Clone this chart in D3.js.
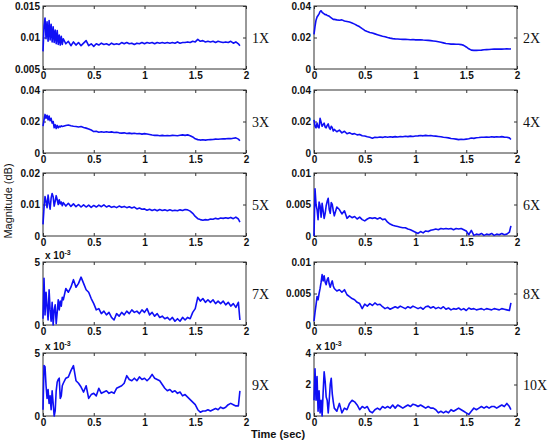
<!DOCTYPE html>
<html>
<head>
<meta charset="utf-8">
<script src="https://cdn.jsdelivr.net/npm/d3@7"></script>
<style>
  body { margin: 0; background: #fff; }
</style>
</head>
<body>
<div id="chart"></div>
<script>
// Time samples (sec), shared by every panel
const times = [0, 0.01, 0.02, 0.03, 0.04, 0.05, 0.06, 0.07, 0.08, 0.09, 0.1, 0.11, 0.12, 0.13, 0.14, 0.15, 0.16, 0.17, 0.18, 0.19, 0.2,
  0.225, 0.25, 0.275, 0.3, 0.325, 0.35, 0.375, 0.4,
  0.425, 0.45, 0.475, 0.5, 0.525, 0.55, 0.575, 0.6,
  0.625, 0.65, 0.675, 0.7, 0.725, 0.75, 0.775, 0.8,
  0.825, 0.85, 0.875, 0.9, 0.925, 0.95, 0.975, 1.0,
  1.025, 1.05, 1.075, 1.1, 1.125, 1.15, 1.175, 1.2,
  1.225, 1.25, 1.275, 1.3, 1.325, 1.35, 1.375, 1.4,
  1.425, 1.45, 1.475, 1.5, 1.525, 1.55, 1.575, 1.6,
  1.625, 1.65, 1.675, 1.7, 1.725, 1.75, 1.775, 1.8,
  1.825, 1.85, 1.875, 1.9, 1.925, 1.94];

// Magnitudes, all in units of 1e-3
const mag1X = [7.8, 11.8, 13.1, 9.8, 12.5, 9.4, 12.7, 9.6, 12.1, 9.3, 11.7, 9.2, 11.2, 9.0, 11.1, 8.9, 10.4, 8.8, 10.2, 8.9, 9.8,
  9.0, 9.4, 8.7, 9.3, 8.8, 9.2, 8.7, 9.1,
  9.5, 8.7, 9.0, 8.6, 9.0, 8.8, 9.1, 8.9,
  9.0, 8.8, 9.1, 8.9, 9.0, 8.9, 9.2, 9.0,
  9.2, 9.0, 9.1, 8.9, 9.1, 9.0, 9.2, 9.0,
  9.2, 9.1, 9.2, 9.0, 9.2, 9.1, 9.2, 9.1,
  9.2, 9.1, 9.2, 9.1, 9.3, 9.1, 9.2, 9.2,
  9.3, 9.2, 9.4, 9.3, 9.7, 9.4, 9.5, 9.3,
  9.4, 9.3, 9.4, 9.2, 9.4, 9.3, 9.2, 9.3,
  9.2, 9.4, 9.1, 9.3, 9.0, 8.7];
const mag2X = [22, 27, 31, 33, 34, 35, 36.5, 37, 36, 35.5, 35, 34.5, 34.5, 34, 33.8, 33.5, 33, 32.5, 32, 31.5, 31.5,
  31.2, 31.0, 31.2, 30.5, 30.2, 29.8, 29.2, 28.5,
  27.6, 26.8, 25.6, 24.5, 23.8, 23.2, 22.8, 22.3,
  21.8, 21.3, 20.8, 20.5, 20.0, 19.6, 19.3, 19.1,
  19.0, 18.9, 18.8, 18.8, 18.7, 18.6, 18.7, 18.5,
  18.5, 18.6, 18.4, 18.3, 18.2, 18.0, 17.8, 17.6,
  17.3, 17.0, 16.6, 16.2, 16.0, 15.8, 15.8, 15.7,
  15.7, 15.5, 15.0, 14.0, 12.8, 12.0, 11.8, 11.8,
  11.9, 12.0, 12.2, 12.3, 12.4, 12.5, 12.6, 12.6,
  12.6, 12.6, 12.7, 12.8, 12.7, 12.8];
const mag3X = [17, 21, 24.5, 22, 24, 21, 23.5, 20.5, 22, 19, 20, 16, 18, 15.5, 17.5, 16, 17, 16.5, 17.2, 16.8, 17,
  17.5, 17.8, 17.3, 17.0, 16.8, 16.5, 16.8, 16.2,
  15.8, 15.3, 14.6, 13.6, 13.8, 13.2, 13.5, 13.2,
  13.5, 13.2, 13.4, 13.0, 13.2, 12.8, 12.6, 12.8,
  12.4, 12.6, 12.3, 12.5, 12.2, 12.4, 12.0, 12.3,
  12.1, 11.8, 11.4, 11.2, 11.3, 11.0, 11.2, 11.0,
  11.1, 11.0, 11.2, 11.1, 11.0, 11.3, 11.5, 11.2,
  11.5, 11.0, 10.2, 9.0, 8.5, 8.2, 8.4, 8.2,
  8.4, 8.5, 8.6, 8.8, 8.7, 8.9, 9.0, 9.0,
  9.2, 9.1, 9.4, 9.6, 8.8, 7.8];
const mag4X = [21, 17, 16, 19, 16.5, 16, 22, 19.5, 17, 18, 19, 16.5, 16, 17.5, 18.5, 16, 15, 17, 16, 14, 15,
  13.5, 14.5, 12.8, 13.8, 12.2, 12.8, 12.0, 12.3,
  11.5, 11.8, 11.0, 10.8, 10.3, 10.0, 9.4, 10.0,
  9.8, 10.2, 9.9, 10.3, 10.0, 10.3, 10.1, 10.4,
  10.2, 10.5, 10.3, 10.6, 10.4, 10.7, 10.5, 10.8,
  10.9, 11.1, 10.9, 11.2, 11.0, 11.1, 10.8, 10.7,
  10.5, 10.3, 10.0, 9.8, 9.6, 9.2, 9.0, 8.8,
  8.5, 8.7, 8.6, 8.8, 9.0, 9.5, 9.3, 9.7,
  9.8, 10.0, 10.0, 10.2, 10.0, 10.3, 10.1, 10.3,
  10.2, 10.4, 10.1, 10.0, 9.6, 8.6];
const mag5X = [3.7, 9, 12.5, 11, 9, 13, 10.5, 8.5, 12, 13.5, 12.5, 9.5, 11, 12.8, 11.5, 10, 11.5, 10.2, 10.8, 9.6, 10.6,
  9.5, 10.4, 9.4, 10.2, 9.3, 10.0, 9.2, 9.9,
  9.2, 9.8, 9.1, 9.7, 9.2, 9.8, 9.3, 9.9,
  9.2, 9.6, 9.1, 9.4, 9.0, 9.5, 9.1, 9.4,
  9.0, 9.3, 8.9, 9.2, 8.6, 8.9, 8.5, 8.6,
  8.2, 8.5, 8.1, 8.4, 8.0, 8.4, 8.1, 8.3,
  8.0, 8.3, 8.0, 8.2, 8.0, 8.3, 8.1, 8.4,
  8.3, 7.9, 7.2, 6.2, 5.5, 5.2, 5.0, 5.2,
  5.1, 5.4, 5.3, 5.6, 5.4, 5.7, 5.6, 5.8,
  5.6, 5.9, 5.5, 6.0, 5.4, 4.4];
const mag6X = [0, 7.5, 5.0, 4.2, 2.6, 5.4, 4.8, 3.0, 5.2, 4.0, 2.8, 3.6, 4.8, 5.5, 6.0, 4.2, 3.6, 5.3, 5.0, 4.0, 3.2,
  4.6, 4.2, 3.5, 4.0, 2.8, 3.2, 2.9, 3.1,
  2.7, 3.0, 2.6, 2.4, 2.7, 2.9, 2.8, 2.9,
  2.7, 2.9, 2.6, 2.7, 2.2, 1.9, 1.7, 1.6,
  1.5, 1.4, 1.3, 1.3, 1.1, 1.0, 0.8, 0.6,
  0.4, 0.7, 0.5, 0.8, 0.7, 0.9, 1.0, 1.1,
  1.0, 1.2, 1.1, 1.2, 1.1, 1.2, 1.0, 1.2,
  1.1, 1.2, 1.0, 0.8, 0.2, 0.9, 0.1, 0.3,
  0.2, 0.4, 0.1, 0.3, 0.2, 0.4, 0.1, 0.3,
  0.2, 0.4, 0.2, 0.3, 0.6, 1.6];
const mag7X = [0.5, 3.7, 0.8, 2.6, 1.5, 0.4, 2.8, 1.2, 0.3, 1.8, 0.0, 1.2, 1.6, 0.1, 1.0, 2.0, 1.2, 1.9, 1.5, 2.2, 2.0,
  2.9, 2.6, 3.0, 3.6, 3.0, 3.3, 3.8, 3.3,
  2.8, 2.6, 2.1, 1.7, 1.2, 1.3, 0.9, 1.1,
  0.8, 1.0, 0.6, 0.4, 0.9, 0.7, 1.0, 0.8,
  1.1, 0.9, 1.2, 1.0, 1.1, 0.9, 1.2, 1.0,
  1.3, 0.8, 1.0, 0.7, 0.9, 0.6, 0.7, 0.5,
  0.6, 0.4, 0.6, 0.3, 0.5, 0.3, 0.6, 0.4,
  0.6, 0.5, 1.0, 1.3, 2.2, 1.9, 2.1, 1.8,
  2.0, 1.8, 2.0, 1.7, 1.9, 1.7, 1.9, 1.6,
  1.8, 1.5, 1.7, 1.4, 1.8, 0.4];
const mag8X = [0.6, 2.0, 3.2, 4.5, 4.0, 5.0, 5.8, 6.8, 8.0, 7.0, 7.8, 6.8, 6.4, 7.2, 7.5, 6.5, 6.0, 6.6, 7.0, 6.2, 5.8,
  5.4, 5.6, 5.2, 5.6, 4.8, 4.5, 4.2, 4.0,
  3.6, 3.4, 2.6, 3.3, 3.0, 3.4, 3.1, 3.5,
  3.2, 3.3, 2.9, 2.6, 2.8, 2.5, 2.7, 2.9,
  2.7, 3.0, 2.8, 2.6, 2.9, 2.7, 3.0, 2.8,
  2.6, 2.8, 2.5, 2.9, 3.0, 2.7, 2.9, 2.6,
  2.8, 2.6, 2.9, 2.5, 2.7, 2.4, 2.6, 2.5,
  2.7, 2.4, 2.6, 2.3, 2.7, 2.5, 2.6, 2.4,
  2.5, 2.6, 2.4, 2.6, 2.5, 2.4, 2.6, 2.5,
  2.4, 2.6, 2.5, 2.4, 2.3, 3.5];
const mag9X = [0.5, 4.0, 3.9, 2.4, 1.4, 2.1, 1.0, 1.6, 0.5, 2.0, 1.0, 0.0, 0.4, 2.0, 2.7, 2.9, 3.0, 1.4, 1.6, 2.4, 2.6,
  3.0, 3.1, 3.6, 4.0, 2.8, 2.6, 2.3, 1.9,
  2.4, 1.4, 1.7, 1.8, 1.6, 2.2, 1.8, 1.9,
  2.0, 1.8, 1.9, 1.8, 2.2, 2.3, 2.4, 2.6,
  3.2, 2.9, 2.8, 3.0, 2.8, 3.1, 2.9, 3.0,
  2.8, 3.0, 3.3, 3.0, 2.9, 2.8, 2.5, 2.2,
  2.0, 2.1, 1.9, 2.0, 1.8, 1.9, 1.6, 1.7,
  1.5, 1.3, 1.1, 0.9, 0.5, 0.3, 0.4, 0.4,
  0.5, 0.4, 0.5, 0.6, 0.5, 0.7, 0.6, 0.7,
  0.9, 1.0, 0.9, 0.8, 0.8, 2.0];
const mag10X = [1.0, 3.0, 1.0, 2.5, 0.3, 1.6, 0.2, 1.0, 0.0, 1.5, 2.8, 2.2, 1.2, 1.0, 0.2, 1.0, 2.0, 2.4, 1.4, 0.9, 0.5,
  0.3, 0.8, 0.2, 0.5, 0.4, 0.8, 1.0, 0.9,
  0.7, 0.4, 0.6, 0.5, 0.6, 0.3, 0.2, 0.4,
  0.5, 0.4, 0.6, 0.5, 0.6, 0.5, 0.7, 0.5,
  0.7, 0.6, 0.5, 0.6, 0.7, 0.6, 0.75, 0.7,
  0.6, 0.7, 0.6, 0.5, 0.6, 0.5, 0.5, 0.4,
  0.2, 0.3, 0.2, 0.3, 0.2, 0.4, 0.3, 0.4,
  0.5, 0.4, 0.3, 0.2, 0.1, 0.3, 0.5, 0.4,
  0.5, 0.6, 0.5, 0.6, 0.5, 0.6, 0.6, 0.5,
  0.6, 0.7, 0.6, 0.8, 0.6, 0.4];

const seriesList = [mag1X, mag2X, mag3X, mag4X, mag5X, mag6X, mag7X, mag8X, mag9X, mag10X];
const panelLabels = ["1X", "2X", "3X", "4X", "5X", "6X", "7X", "8X", "9X", "10X"];

// y axis ranges and ticks (1e-3 units) with their printed labels
const yDomains = [[5, 15], [0, 40], [0, 40], [0, 40], [0, 20], [0, 10], [0, 5], [0, 10], [0, 5], [0, 4]];
const yTickValues = [[5, 10, 15], [0, 20, 40], [0, 20, 40], [0, 20, 40], [0, 10, 20], [0, 5, 10], [0, 5], [0, 5, 10], [0, 5], [0, 2, 4]];
const yTickLabels = [["0.005", "0.01", "0.015"], ["0", "0.02", "0.04"], ["0", "0.02", "0.04"], ["0", "0.02", "0.04"],
  ["0", "0.01", "0.02"], ["0", "0.005", "0.01"], ["0", "5"], ["0", "0.005", "0.01"], ["0", "5"], ["0", "2", "4"]];
const hasExponent = [false, false, false, false, false, false, true, false, true, true];

const xTickValues = [0, 0.5, 1, 1.5, 2];
const xTickLabels = ["0", "0.5", "1", "1.5", "2"];

// Layout
const W = 552, H = 442;
const colLeft = [43, 314];
const rowTop = [6, 90, 173, 262, 353];
const boxW = 203, boxH = 63;
const lineColor = "#0f0ff5";
const tickFont = "'Liberation Sans', Arial, sans-serif";

const svg = d3.select("#chart").append("svg")
    .attr("width", W)
    .attr("height", H)
    .style("display", "block");

const x = d3.scaleLinear().domain([0, 2]).range([0, boxW]);

seriesList.forEach((values, i) => {
    const col = i % 2, row = Math.floor(i / 2);
    const g = svg.append("g")
        .attr("transform", `translate(${colLeft[col]},${rowTop[row]})`);

    const y = d3.scaleLinear().domain(yDomains[i]).range([boxH, 0]);
    const labels = yTickLabels[i];

    // Axes with inward ticks, MATLAB style
    const bottom = g.append("g")
        .attr("transform", `translate(0,${boxH})`)
        .call(d3.axisBottom(x).tickValues(xTickValues).tickSize(-3).tickPadding(3)
            .tickFormat((d, k) => xTickLabels[k]));
    const top = g.append("g")
        .call(d3.axisTop(x).tickValues(xTickValues).tickSize(-3).tickFormat(""));
    const left = g.append("g")
        .call(d3.axisLeft(y).tickValues(yTickValues[i]).tickSize(-3).tickPadding(3)
            .tickFormat((d, k) => labels[k]));
    const right = g.append("g")
        .attr("transform", `translate(${boxW},0)`)
        .call(d3.axisRight(y).tickValues(yTickValues[i]).tickSize(-3).tickFormat(""));

    [bottom, top, left, right].forEach(a => {
        a.select(".domain").remove();
        a.selectAll(".tick line").attr("stroke", "#333");
        a.attr("font-family", tickFont)
            .attr("font-size", 10)
            .attr("font-weight", "bold");
        a.selectAll(".tick text").attr("fill", "#111");
    });

    // Frame
    g.append("rect")
        .attr("width", boxW)
        .attr("height", boxH)
        .attr("fill", "none")
        .attr("stroke", "#333")
        .attr("stroke-width", 1);

    // Trace
    const pts = times.map((t, k) => [t, values[k]]).filter(d => d[1] !== undefined);
    g.append("path")
        .datum(pts)
        .attr("fill", "none")
        .attr("stroke", lineColor)
        .attr("stroke-width", 1.6)
        .attr("stroke-linejoin", "round")
        .attr("d", d3.line().x(d => x(d[0])).y(d => y(d[1])));

    // Harmonic label
    g.append("text")
        .attr("x", boxW + 6)
        .attr("y", boxH / 2 + 5)
        .attr("font-family", "'Liberation Serif', 'Times New Roman', serif")
        .attr("font-size", 14)
        .attr("fill", "#111")
        .text(panelLabels[i]);

    // x 10^-3 multiplier
    if (hasExponent[i]) {
        const ex = g.append("text")
            .attr("x", 2)
            .attr("y", -3)
            .attr("font-family", tickFont)
            .attr("font-size", 10)
            .attr("font-weight", "bold")
            .attr("fill", "#111");
        ex.append("tspan").text("x 10");
        ex.append("tspan").attr("dy", -4).attr("font-size", 7).text("-3");
    }
});

// Axis titles
svg.append("text")
    .attr("transform", "rotate(-90)")
    .attr("x", -201)
    .attr("y", 12)
    .attr("text-anchor", "middle")
    .attr("font-family", "'Liberation Sans', Arial, sans-serif")
    .attr("font-size", 11)
    .attr("fill", "#111")
    .text("Magnitude (dB)");

svg.append("text")
    .attr("x", 278)
    .attr("y", 438)
    .attr("text-anchor", "middle")
    .attr("font-family", "'Liberation Sans', Arial, sans-serif")
    .attr("font-size", 11)
    .attr("font-weight", "bold")
    .attr("fill", "#111")
    .text("Time (sec)");
</script>
</body>
</html>
